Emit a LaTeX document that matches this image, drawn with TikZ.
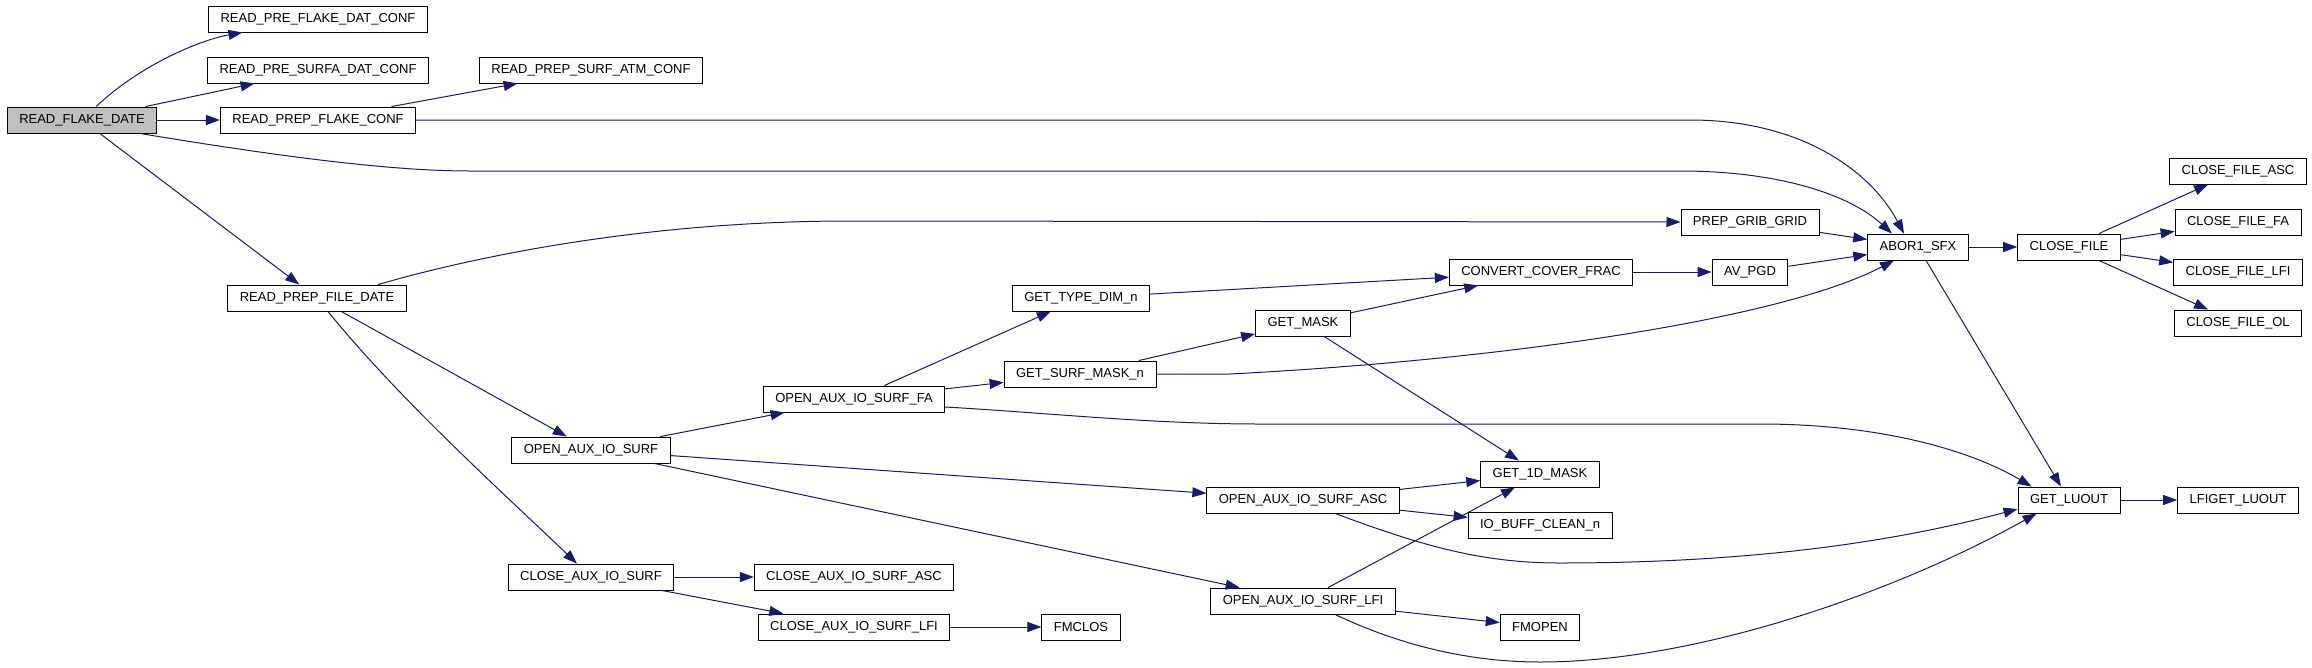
\documentclass[tikz,border=0pt]{standalone}
\usepackage{fontspec}
\setmainfont{Liberation Sans}
\usetikzlibrary{arrows.meta}
\definecolor{edgeblue}{HTML}{191970}

\begin{document}
\begin{tikzpicture}[x=1pt,y=-1pt,
	fn/.style={draw,rectangle,line width=0.9pt,minimum height=26pt,inner xsep=12pt,inner ysep=0pt,font=\fontsize{13}{15}\selectfont},
	call/.style={draw=edgeblue,line width=1pt,-{Triangle[length=14pt,width=10pt]}}]
		\useasboundingbox (0,0) rectangle (2312,667);

		% Caller and its direct callees
		\node[fn,fill=black!25] (rfd) at (82,120) {READ\_FLAKE\_DATE};
		\node[fn] (rpfdc) at (318,19) {READ\_PRE\_FLAKE\_DAT\_CONF};
		\node[fn] (rpsdc) at (318,70) {READ\_PRE\_SURFA\_DAT\_CONF};
		\node[fn] (rpfc) at (318,120) {READ\_PREP\_FLAKE\_CONF};
		\node[fn] (rpfd) at (317,298) {READ\_PREP\_FILE\_DATE};

		% Second level
		\node[fn] (rpsac) at (591,70) {READ\_PREP\_SURF\_ATM\_CONF};
		\node[fn] (oais) at (591,450) {OPEN\_AUX\_IO\_SURF};
		\node[fn] (cais) at (591,577) {CLOSE\_AUX\_IO\_SURF};
		\node[fn] (oaisfa) at (854,399) {OPEN\_AUX\_IO\_SURF\_FA};
		\node[fn] (caisasc) at (854,577) {CLOSE\_AUX\_IO\_SURF\_ASC};
		\node[fn] (caislfi) at (854,627) {CLOSE\_AUX\_IO\_SURF\_LFI};
		\node[fn] (gtd) at (1081,298) {GET\_TYPE\_DIM\_n};
		\node[fn] (gsm) at (1080,374) {GET\_SURF\_MASK\_n};
		\node[fn] (fmclos) at (1081,627) {FMCLOS};
		\node[fn] (gmask) at (1303,323) {GET\_MASK};
		\node[fn] (oaisasc) at (1303,500) {OPEN\_AUX\_IO\_SURF\_ASC};
		\node[fn] (oaislfi) at (1303,601) {OPEN\_AUX\_IO\_SURF\_LFI};
		\node[fn] (ccf) at (1541,272) {CONVERT\_COVER\_FRAC};
		\node[fn] (g1d) at (1540,474) {GET\_1D\_MASK};
		\node[fn] (iobuf) at (1540,525) {IO\_BUFF\_CLEAN\_n};
		\node[fn] (fmopen) at (1540,627) {FMOPEN};
		\node[fn] (pgg) at (1750,222) {PREP\_GRIB\_GRID};
		\node[fn] (avpgd) at (1750,272) {AV\_PGD};

		% Abort and logical unit
		\node[fn] (abor) at (1918,247) {ABOR1\_SFX};
		\node[fn] (cfile) at (2069,247) {CLOSE\_FILE};
		\node[fn] (luout) at (2069,500) {GET\_LUOUT};
		\node[fn] (cfasc) at (2238,171) {CLOSE\_FILE\_ASC};
		\node[fn] (cffa) at (2238,222) {CLOSE\_FILE\_FA};
		\node[fn] (cflfi) at (2238,272) {CLOSE\_FILE\_LFI};
		\node[fn] (cfol) at (2238,323) {CLOSE\_FILE\_OL};
		\node[fn] (lfiluout) at (2238,500) {LFIGET\_LUOUT};

		% Calls from READ_FLAKE_DATE
		\draw[call] (rfd) .. controls (140,65) and (200,40) .. (rpfdc);
		\draw[call] (rfd) -- (rpsdc);
		\draw[call] (rfd) -- (rpfc);
		\draw[call] (rfd) -- (rpfd);
		\draw[call] ([xshift=58pt]rfd.south) .. controls (300,160) and (400,171) .. (470,171) -- (1680,171) .. controls (1780,171) and (1850,195) .. ([xshift=-26pt]abor.north);
		\draw[call] (rpfc) -- (rpsac);
		\draw[call] (rpfc.east) -- (1690,120) .. controls (1800,120) and (1870,170) .. ([xshift=-14pt]abor.north);
		\draw[call] ([xshift=61pt]rpfd.north) .. controls (480,255) and (650,221) .. (850,221) -- (pgg.west);
		\draw[call] (rpfd) -- (oais);
		\draw[call] (rpfd) .. controls (400,400) and (500,490) .. (cais);

		% Open and close of the auxiliary files
		\draw[call] (oais) -- (oaisfa);
		\draw[call] (oais) -- (oaisasc);
		\draw[call] (oais) -- (oaislfi);
		\draw[call] (cais) -- (caisasc);
		\draw[call] (cais) -- (caislfi);
		\draw[call] (caislfi) -- (fmclos);
		\draw[call] (oaisfa) -- (gtd);
		\draw[call] (oaisfa) -- (gsm);
		\draw[call] ([yshift=-8pt]oaisfa.east) .. controls (1050,413) and (1150,424) .. (1260,424) -- (1760,424) .. controls (1880,424) and (1970,450) .. ([xshift=14pt]luout.north west);
		\draw[call] (gtd) -- (ccf);
		\draw[call] (gsm) -- (gmask);
		\draw[call] (gsm.east) -- (1230,374) .. controls (1500,360) and (1780,320) .. ([xshift=-24pt]abor.south);
		\draw[call] (gmask) -- (ccf);
		\draw[call] (gmask) -- (g1d);
		\draw[call] (oaisasc) -- (g1d);
		\draw[call] (oaisasc) -- (iobuf);
		\draw[call] ([xshift=32pt]oaisasc.south) .. controls (1420,545) and (1480,563) .. (1560,563) .. controls (1780,563) and (1920,535) .. ([yshift=-9pt]luout.west);
		\draw[call] (oaislfi) -- (g1d);
		\draw[call] (oaislfi) -- (fmopen);
		\draw[call] ([xshift=32pt]oaislfi.south) .. controls (1410,650) and (1480,662) .. (1540,662) .. controls (1700,662) and (1900,590) .. ([xshift=19pt]luout.south west);
		\draw[call] (ccf) -- (avpgd);
		\draw[call] (pgg) -- (abor);
		\draw[call] (avpgd) -- (abor);

		% ABOR1_SFX and GET_LUOUT
		\draw[call] (abor) -- (cfile);
		\draw[call] (abor) -- (luout);
		\draw[call] (cfile) -- (cfasc);
		\draw[call] (cfile) -- (cffa);
		\draw[call] (cfile) -- (cflfi);
		\draw[call] (cfile) -- (cfol);
		\draw[call] (luout) -- (lfiluout);
	\end{tikzpicture}
\end{document}
